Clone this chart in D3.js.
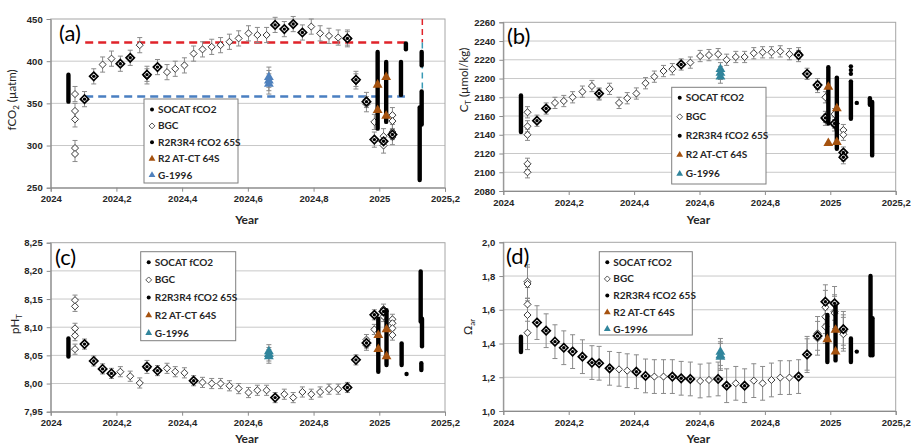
<!DOCTYPE html>
<html>
<head>
<meta charset="utf-8">
<script src="https://cdn.jsdelivr.net/npm/d3@7"></script>
<style>
	body { margin: 0; background: #fff; }
	svg { display: block; font-family: Lato, "Open Sans", sans-serif; }
</style>
</head>
<body>
<div id="chart"></div>
<script>
// shared x ticks
const xTicks = [2024, 2024.2, 2024.4, 2024.6, 2024.8, 2025, 2025.2];
const legendLabels = ["SOCAT fCO2", "BGC", "R2R3R4 fCO2 65S", "R2 AT-CT 64S", "G-1996"];

// (a) fCO2
const fco2Ticks = [250, 300, 350, 400, 450];
const fco2Bgc = [
	[2024.074, 361], [2024.074, 341], [2024.074, 331], [2024.074, 297], [2024.074, 290],
	[2024.103, 355], [2024.131, 382], [2024.158, 396], [2024.185, 403], [2024.212, 397], [2024.242, 404], [2024.271, 419],
	[2024.293, 385], [2024.293, 382], [2024.325, 393], [2024.354, 387], [2024.379, 391], [2024.407, 395], [2024.435, 409],
	[2024.462, 414], [2024.490, 417], [2024.517, 419], [2024.544, 423], [2024.572, 427], [2024.602, 433], [2024.629, 431],
	[2024.657, 431], [2024.683, 443], [2024.711, 438], [2024.738, 444], [2024.766, 434], [2024.793, 441], [2024.820, 433],
	[2024.847, 430], [2024.875, 428], [2024.903, 428], [2024.903, 426], [2024.929, 379], [2024.929, 376], [2024.961, 354],
	[2024.961, 349], [2024.985, 328], [2024.985, 307], [2025.013, 311], [2025.013, 300], [2025.040, 336], [2025.040, 329],
	[2025.040, 316], [2025.040, 310]
];
const fco2R2r3r4 = [
	[2024.103, 355], [2024.131, 382], [2024.212, 397], [2024.242, 404], [2024.293, 384], [2024.325, 393], [2024.683, 443],
	[2024.711, 438], [2024.738, 444], [2024.766, 434], [2024.903, 427], [2024.929, 378], [2024.961, 352], [2024.985, 307],
	[2025.013, 305], [2025.040, 313]
];
const fco2Socat = [
	[2024.054, 352, 384], [2024.995, 320, 411], [2025.021, 328, 399], [2025.066, 360, 399], [2025.081, 414, 421],
	[2025.123, 259, 345], [2025.129, 325, 364], [2025.129, 395, 411]
];
const fco2AtCt = [[2024.995, 372], [2024.995, 342], [2025.021, 381], [2025.021, 335]];
const fco2G1996 = [[2024.664, 381], [2024.664, 377], [2024.664, 373]];
const fco2RefUpper = 422;
const fco2RefLower = 358;
const fco2RefStart = 2024.105;
const fco2RefEnd = 2025.078;
const fco2RefVertical = 2025.131;

// (b) CT
const ctTicks = [2080, 2100, 2120, 2140, 2160, 2180, 2200, 2220, 2240, 2260];
const ctBgc = [
	[2024.074, 2164], [2024.074, 2149], [2024.074, 2140], [2024.074, 2109], [2024.074, 2100],
	[2024.103, 2155], [2024.131, 2168], [2024.158, 2174], [2024.185, 2176], [2024.212, 2180], [2024.242, 2186], [2024.271, 2192],
	[2024.293, 2184], [2024.293, 2183], [2024.325, 2189], [2024.354, 2174], [2024.379, 2179], [2024.407, 2184], [2024.435, 2195],
	[2024.462, 2202], [2024.490, 2208], [2024.517, 2210], [2024.544, 2215], [2024.572, 2217], [2024.602, 2224], [2024.629, 2225],
	[2024.657, 2226], [2024.683, 2220], [2024.711, 2223], [2024.738, 2223], [2024.766, 2227], [2024.793, 2228], [2024.820, 2228],
	[2024.847, 2229], [2024.875, 2226], [2024.903, 2227], [2024.903, 2224], [2024.929, 2205], [2024.961, 2194], [2024.961, 2191],
	[2024.985, 2180], [2024.985, 2159], [2024.985, 2156], [2025.013, 2162], [2025.013, 2153], [2025.013, 2150],
	[2025.040, 2145], [2025.040, 2140], [2025.040, 2121], [2025.040, 2118], [2025.040, 2115]
];
const ctR2r3r4 = [
	[2024.103, 2155], [2024.131, 2168], [2024.293, 2184], [2024.544, 2215], [2024.903, 2225], [2024.929, 2205],
	[2024.961, 2193], [2024.985, 2158], [2025.013, 2152], [2025.040, 2121], [2025.040, 2116]
];
const ctSocat = [
	[2024.054, 2143, 2182], [2024.994, 2152, 2212], [2025.020, 2125, 2201], [2025.063, 2157, 2197], [2025.063, 2205, 2205],
	[2025.063, 2209, 2209], [2025.063, 2213, 2213], [2025.081, 2174, 2174], [2025.121, 2172, 2179], [2025.128, 2118, 2175]
];
const ctAtCt = [[2024.994, 2191], [2024.994, 2131], [2025.020, 2168], [2025.020, 2132]];
const ctG1996 = [[2024.664, 2210], [2024.664, 2206], [2024.664, 2202]];

// (c) pH
const phTicks = [7.95, 8.00, 8.05, 8.10, 8.15, 8.20, 8.25];
const phBgc = [
	[2024.074, 8.148], [2024.074, 8.137], [2024.074, 8.098], [2024.074, 8.085], [2024.074, 8.061],
	[2024.103, 8.070], [2024.131, 8.040], [2024.158, 8.026], [2024.185, 8.018], [2024.212, 8.021], [2024.242, 8.013], [2024.271, 8.001],
	[2024.293, 8.032], [2024.293, 8.027], [2024.325, 8.023], [2024.354, 8.027], [2024.379, 8.021], [2024.407, 8.019], [2024.435, 8.005],
	[2024.462, 8.002], [2024.490, 8.000], [2024.517, 8.000], [2024.544, 7.996], [2024.572, 7.991], [2024.602, 7.984], [2024.629, 7.988],
	[2024.657, 7.988], [2024.683, 7.975], [2024.711, 7.981], [2024.738, 7.975], [2024.766, 7.985], [2024.793, 7.981], [2024.820, 7.985],
	[2024.847, 7.990], [2024.875, 7.990], [2024.903, 7.993], [2024.929, 8.042], [2024.961, 8.078], [2024.961, 8.072], [2024.961, 8.068],
	[2024.985, 8.122], [2024.985, 8.096], [2025.013, 8.132], [2025.013, 8.125], [2025.013, 8.119],
	[2025.040, 8.114], [2025.040, 8.107], [2025.040, 8.098], [2025.040, 8.086]
];
const phR2r3r4 = [
	[2024.103, 8.070], [2024.131, 8.040], [2024.158, 8.026], [2024.185, 8.018], [2024.293, 8.030], [2024.325, 8.023],
	[2024.435, 8.005], [2024.683, 7.975], [2024.903, 7.993], [2024.929, 8.042], [2024.961, 8.072], [2024.985, 8.122], [2025.013, 8.128]
];
const phSocat = [
	[2024.054, 8.048, 8.080], [2024.997, 8.021, 8.115], [2025.022, 8.033, 8.130], [2025.068, 8.033, 8.071], [2025.083, 8.017, 8.017],
	[2025.126, 8.110, 8.199], [2025.130, 8.066, 8.115], [2025.128, 8.024, 8.036]
];
const phAtCt = [[2024.997, 8.086], [2024.997, 8.061], [2025.022, 8.096], [2025.022, 8.048]];
const phG1996 = [[2024.664, 8.057], [2024.664, 8.052], [2024.664, 8.048]];

// (d) omega aragonite
const omegaTicks = [1.0, 1.2, 1.4, 1.6, 1.8, 2.0];
const omegaBgc = [
	[2024.074, 1.767], [2024.074, 1.753], [2024.074, 1.632], [2024.074, 1.569], [2024.074, 1.464],
	[2024.103, 1.524], [2024.131, 1.476], [2024.158, 1.411], [2024.185, 1.375], [2024.212, 1.352], [2024.242, 1.322], [2024.271, 1.287],
	[2024.293, 1.283], [2024.325, 1.253], [2024.354, 1.247], [2024.379, 1.239], [2024.407, 1.233], [2024.435, 1.208],
	[2024.462, 1.204], [2024.490, 1.204], [2024.517, 1.204], [2024.544, 1.194], [2024.572, 1.190], [2024.602, 1.178], [2024.629, 1.184],
	[2024.657, 1.190], [2024.683, 1.150], [2024.711, 1.164], [2024.738, 1.150], [2024.766, 1.180], [2024.793, 1.164], [2024.820, 1.184],
	[2024.847, 1.198], [2024.875, 1.198], [2024.903, 1.204], [2024.929, 1.342], [2024.929, 1.328], [2024.961, 1.460], [2024.961, 1.431],
	[2024.985, 1.648], [2024.985, 1.615], [2024.985, 1.559], [2024.985, 1.500], [2025.013, 1.638], [2025.013, 1.589], [2025.013, 1.580],
	[2025.040, 1.490], [2025.040, 1.470], [2025.040, 1.455]
];
const omegaR2r3r4 = [
	[2024.103, 1.524], [2024.131, 1.476], [2024.158, 1.411], [2024.185, 1.375], [2024.212, 1.352], [2024.242, 1.322],
	[2024.271, 1.287], [2024.293, 1.283], [2024.325, 1.253], [2024.407, 1.233], [2024.435, 1.208], [2024.517, 1.204],
	[2024.544, 1.194], [2024.572, 1.190], [2024.657, 1.190], [2024.683, 1.150], [2024.738, 1.150], [2024.903, 1.204],
	[2024.929, 1.335], [2024.961, 1.445], [2024.985, 1.648], [2025.013, 1.638], [2025.040, 1.485]
];
const omegaSocat = [
	[2024.054, 1.35, 1.44], [2024.991, 1.29, 1.57], [2025.016, 1.30, 1.62], [2025.063, 1.29, 1.43], [2025.081, 1.352, 1.352],
	[2025.123, 1.33, 1.80], [2025.129, 1.33, 1.55]
];
const omegaAtCt = [[2024.991, 1.425], [2025.016, 1.480], [2025.016, 1.352]];
const omegaG1996 = [[2024.664, 1.35], [2024.664, 1.33], [2024.664, 1.32]];

const brown = "#a5520f";
const comma = s => s.replace(".", ",");

const svg = d3.select("#chart").append("svg")
	.attr("width", 911)
	.attr("height", 447);

function panel(cfg) {
	const x = d3.scaleLinear().domain([2024, 2025.2]).range([cfg.left, cfg.right]);
	const y = d3.scaleLinear().domain(d3.extent(cfg.yTicks)).range([cfg.bottom, cfg.top]);
	const g = svg.append("g");

	// grid
	g.append("g").selectAll("line")
		.data(cfg.yTicks.slice(1, -1))
		.enter().append("line")
		.attr("x1", cfg.left).attr("x2", cfg.right)
		.attr("y1", d => y(d)).attr("y2", d => y(d))
		.attr("stroke", "#c8c8c8").attr("stroke-width", 1);
	g.append("rect")
		.attr("x", cfg.left).attr("y", cfg.top)
		.attr("width", cfg.right - cfg.left).attr("height", cfg.bottom - cfg.top)
		.attr("fill", "none").attr("stroke", "#a6a6a6");

	// axes
	const xAxis = g.append("g")
		.attr("transform", `translate(0,${cfg.bottom})`)
		.call(d3.axisBottom(x).tickValues(xTicks).tickSize(4).tickPadding(4)
			.tickFormat(d => comma(String(+d.toFixed(1)))));
	const yAxis = g.append("g")
		.attr("transform", `translate(${cfg.left},0)`)
		.call(d3.axisLeft(y).tickValues(cfg.yTicks).tickSize(4).tickPadding(4)
			.tickFormat(d => comma(d.toFixed(cfg.decimals))));
	for (const ax of [xAxis, yAxis]) {
		ax.select(".domain").attr("stroke", "#8c8c8c");
		ax.selectAll(".tick line").attr("stroke", "#8c8c8c");
		ax.selectAll(".tick text")
			.attr("fill", "#262626")
			.style("font-size", "9.5px")
			.style("font-weight", "bold");
	}

	// reference lines (panel a)
	if (cfg.refs) {
		for (const [val, color] of cfg.refs) {
			g.append("line")
				.attr("x1", x(fco2RefStart)).attr("x2", x(fco2RefEnd))
				.attr("y1", y(val)).attr("y2", y(val))
				.attr("stroke", color).attr("stroke-width", 2.5)
				.attr("stroke-dasharray", "8,5");
		}
		g.append("line")
			.attr("x1", x(fco2RefVertical)).attr("x2", x(fco2RefVertical))
			.attr("y1", y(450)).attr("y2", y(fco2RefUpper))
			.attr("stroke", "#e0232a").attr("stroke-width", 1.5).attr("stroke-dasharray", "6,4");
		g.append("line")
			.attr("x1", x(fco2RefVertical)).attr("x2", x(fco2RefVertical))
			.attr("y1", y(fco2RefUpper)).attr("y2", y(fco2RefLower))
			.attr("stroke", "#3a9ab5").attr("stroke-width", 1.5).attr("stroke-dasharray", "6,4");
	}

	// error bars
	const errs = cfg.bgc.map(d => [d[0], d[1], cfg.err]).concat(cfg.g1996.map(d => [d[0], d[1], cfg.gErr]));
	const eg = g.append("g").attr("stroke", "#8a8a8a").attr("stroke-width", 1);
	eg.selectAll(".v").data(errs).enter().append("line")
		.attr("x1", d => x(d[0])).attr("x2", d => x(d[0]))
		.attr("y1", d => y(d[1] - d[2])).attr("y2", d => y(d[1] + d[2]));
	for (const s of [-1, 1]) {
		eg.selectAll(".c" + s).data(errs).enter().append("line")
			.attr("x1", d => x(d[0]) - 2.5).attr("x2", d => x(d[0]) + 2.5)
			.attr("y1", d => y(d[1] + s * d[2])).attr("y2", d => y(d[1] + s * d[2]));
	}

	const diamond = d3.symbol().type(d3.symbolDiamond2).size(32);
	const bigDiamond = d3.symbol().type(d3.symbolDiamond2).size(44);
	const tri = d3.symbol().type(d3.symbolTriangle).size(42);

	// BGC
	g.append("g").selectAll("path").data(cfg.bgc).enter().append("path")
		.attr("d", diamond)
		.attr("transform", d => `translate(${x(d[0])},${y(d[1])})`)
		.attr("fill", "#fff").attr("stroke", "#3a3a3a").attr("stroke-width", 1);

	// R2R3R4
	const rg = g.append("g");
	rg.selectAll("path").data(cfg.r2).enter().append("path")
		.attr("d", bigDiamond)
		.attr("transform", d => `translate(${x(d[0])},${y(d[1])})`)
		.attr("fill", "#fff").attr("stroke", "#000").attr("stroke-width", 1.7);
	rg.selectAll("circle").data(cfg.r2).enter().append("circle")
		.attr("cx", d => x(d[0])).attr("cy", d => y(d[1])).attr("r", 1.7)
		.attr("fill", "#000");

	// SOCAT
	g.append("g").selectAll("line").data(cfg.socat).enter().append("line")
		.attr("x1", d => x(d[0])).attr("x2", d => x(d[0]))
		.attr("y1", d => y(d[1])).attr("y2", d => y(d[2]))
		.attr("stroke", "#000").attr("stroke-width", 4.4).attr("stroke-linecap", "round");

	// AT-CT and G-1996
	g.append("g").selectAll("path").data(cfg.atct).enter().append("path")
		.attr("d", tri)
		.attr("transform", d => `translate(${x(d[0])},${y(d[1])})`)
		.attr("fill", brown);
	g.append("g").selectAll("path").data(cfg.g1996).enter().append("path")
		.attr("d", tri)
		.attr("transform", d => `translate(${x(d[0])},${y(d[1])})`)
		.attr("fill", cfg.gColor);

	// panel label
	g.append("text")
		.attr("x", cfg.labelX).attr("y", cfg.top + 22)
		.style("font-size", "22px").attr("fill", "#000")
		.text(cfg.label);

	// axis titles
	g.append("text")
		.attr("x", (cfg.left + cfg.right) / 2 - 1).attr("y", cfg.yearY)
		.attr("text-anchor", "middle")
		.style("font-size", "12px").style("font-weight", "bold").attr("fill", "#262626")
		.text("Year");
	const yt = g.append("text")
		.attr("transform", `translate(${cfg.titleX},${cfg.titleY}) rotate(-90)`)
		.attr("text-anchor", "middle")
		.style("font-size", "11.5px").attr("fill", "#262626");
	yt.append("tspan").text(cfg.title[0]);
	yt.append("tspan").attr("dy", 3).style("font-size", "8px").text(cfg.title[1]);
	if (cfg.title[2]) yt.append("tspan").attr("dy", -3).text(cfg.title[2]);

	// legend
	const lg = g.append("g");
	lg.append("rect")
		.attr("x", cfg.legend.x).attr("y", cfg.legend.y)
		.attr("width", cfg.legend.w).attr("height", cfg.legend.h)
		.attr("fill", "#fff").attr("stroke", "#7f7f7f");
	const items = lg.selectAll("g.item").data(legendLabels).enter().append("g")
		.attr("transform", (d, i) => `translate(${cfg.legend.x + 8},${cfg.legend.y + 10.5 + i * cfg.legend.step})`);
	items.append("text")
		.attr("x", 6).attr("dy", "0.35em")
		.style("font-size", "10px").style("font-weight", "bold").attr("fill", "#262626")
		.text(d => d);
	items.filter((d, i) => i === 0 || i === 2).append("circle").attr("r", 2).attr("fill", "#000");
	items.filter((d, i) => i === 1).append("path")
		.attr("d", d3.symbol().type(d3.symbolDiamond2).size(22))
		.attr("fill", "#fff").attr("stroke", "#555");
	items.filter((d, i) => i === 3).append("path")
		.attr("d", d3.symbol().type(d3.symbolTriangle).size(20)).attr("fill", brown);
	items.filter((d, i) => i === 4).append("path")
		.attr("d", d3.symbol().type(d3.symbolTriangle).size(20)).attr("fill", cfg.gColor);
}

panel({
	label: "(a)", left: 50.7, right: 445, top: 19, bottom: 187.7, labelX: 59,
	yTicks: fco2Ticks, decimals: 0, err: 9, gErr: 12,
	bgc: fco2Bgc, r2: fco2R2r3r4, socat: fco2Socat, atct: fco2AtCt, g1996: fco2G1996, gColor: "#4f81bd",
	refs: [[fco2RefUpper, "#e0232a"], [fco2RefLower, "#4a7fc1"]],
	title: ["fCO", "2", " (µatm)"], titleX: 15.5, titleY: 100, yearY: 224,
	legend: { x: 144, y: 99, w: 94, h: 84, step: 16.4 }
});
panel({
	label: "(b)", left: 503.3, right: 895.7, top: 22.3, bottom: 191, labelX: 507,
	yTicks: ctTicks, decimals: 0, err: 6, gErr: 7,
	bgc: ctBgc, r2: ctR2r3r4, socat: ctSocat, atct: ctAtCt, g1996: ctG1996, gColor: "#31859c",
	title: ["C", "T", " (µmol/kg)"], titleX: 468, titleY: 80, yearY: 224,
	legend: { x: 671.7, y: 87.3, w: 94.3, h: 96.7, step: 19 }
});
panel({
	label: "(c)", left: 50.7, right: 445, top: 242.7, bottom: 411.7, labelX: 55,
	yTicks: phTicks, decimals: 2, err: 0.009, gErr: 0.012,
	bgc: phBgc, r2: phR2r3r4, socat: phSocat, atct: phAtCt, g1996: phG1996, gColor: "#31859c",
	title: ["pH", "T"], titleX: 19, titleY: 324, yearY: 443,
	legend: { x: 140.7, y: 251.7, w: 95, h: 89, step: 17.7 }
});
panel({
	label: "(d)", left: 503.3, right: 895.7, top: 242.3, bottom: 411, labelX: 506,
	yTicks: omegaTicks, decimals: 1, err: 0.1, gErr: 0.08,
	bgc: omegaBgc, r2: omegaR2r3r4, socat: omegaSocat, atct: omegaAtCt, g1996: omegaG1996, gColor: "#31859c",
	title: ["Ω", "ar"], titleX: 472, titleY: 327, yearY: 443,
	legend: { x: 599.3, y: 251.7, w: 93, h: 83.3, step: 16.7 }
});
</script>
</body>
</html>
